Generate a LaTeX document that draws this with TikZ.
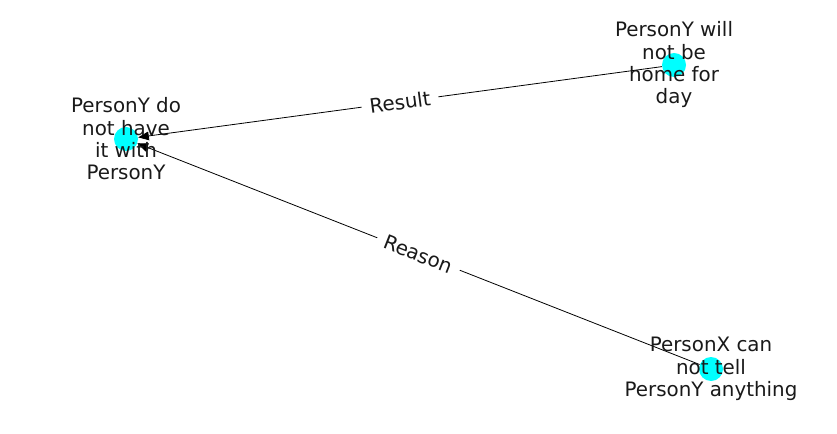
\documentclass[tikz,border=0pt]{standalone}
\usepackage{fontspec}
\setmainfont{DejaVu Sans}
\usetikzlibrary{arrows.meta}

\definecolor{nodcyan}{RGB}{0,255,255}
\tikzset{
  punkt/.style={circle,fill=nodcyan,minimum size=18pt,inner sep=0pt},
  etikett/.style={align=center,text=black!90,font=\fontsize{14.9}{16.75}\selectfont},
  pil/.style={-{Triangle[length=8pt,width=6.5pt]},line width=0.6pt},
  kantnamn/.style={sloped,fill=white,inner xsep=6pt,inner ysep=2pt,text=black!90,
    font=\fontsize{14.9}{16.75}\selectfont}
}

\begin{document}
\begin{tikzpicture}[x=0.75pt,y=-0.75pt]
      % Ram
      \useasboundingbox (0,0) rectangle (837,434);
      % Noder
      \node[punkt] (har) at (126,139) {};
      \node[punkt] (hem) at (674,65) {};
      \node[punkt] (tell) at (711,369) {};
      % Kanter
      \draw[pil] (hem) -- node[kantnamn] {Result} (har);
      \draw[pil] (tell) -- node[kantnamn] {Reason} (har);
      % Texter
      \node[etikett] (harT) at (har) {PersonY do\\not have\\it with\\PersonY};
      \node[etikett] (hemT) at (hem) {PersonY will\\not be\\home for\\day};
      \node[etikett] (tellT) at (tell) {PersonX can\\not tell\\PersonY anything};
    \end{tikzpicture}
\end{document}
